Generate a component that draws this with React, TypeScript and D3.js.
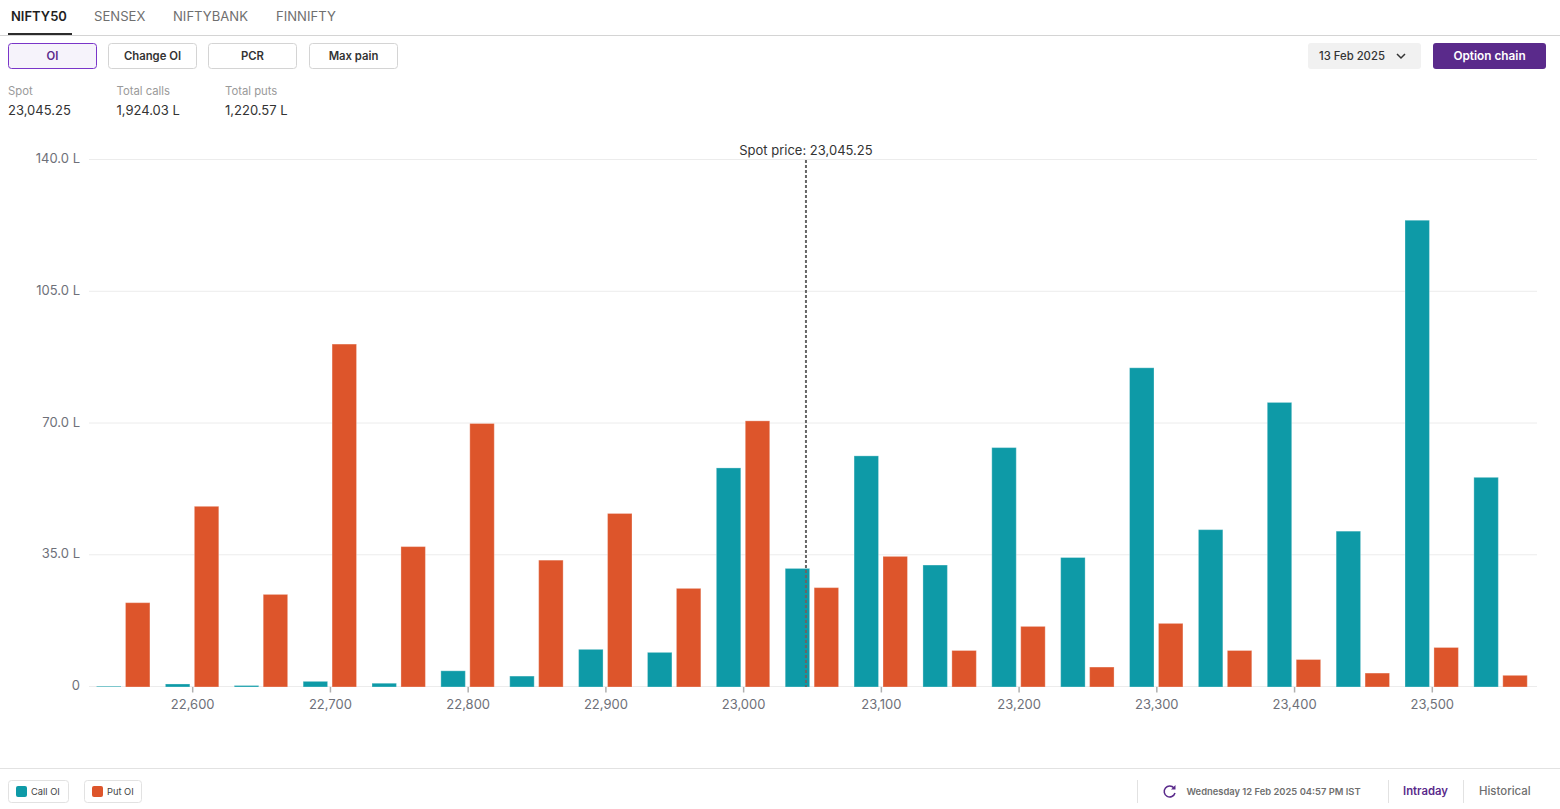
import * as d3 from "d3";

const strikes = [22550, 22600, 22650, 22700, 22750, 22800, 22850, 22900, 22950, 23000, 23050, 23100, 23150, 23200, 23250, 23300, 23350, 23400, 23450, 23500, 23550];
const callOI = [0.2, 0.8, 0.4, 1.5, 1.0, 4.3, 2.9, 10, 9.2, 58.2, 31.5, 61.4, 32.4, 63.6, 34.4, 84.8, 41.8, 75.6, 41.4, 124, 55.7];
const putOI = [22.4, 48, 24.6, 91.1, 37.3, 70, 33.7, 46.1, 26.2, 70.7, 26.4, 34.7, 9.7, 16.1, 5.3, 16.9, 9.7, 7.3, 3.7, 10.5, 3.1];
const yTicks = [0, 35, 70, 105, 140];
const xTicks = [22600, 22700, 22800, 22900, 23000, 23100, 23200, 23300, 23400, 23500];
const spot = 23045.25;
const tabs = ["NIFTY50", "SENSEX", "NIFTYBANK", "FINNIFTY"];
const tabX = [11, 94, 173, 276];
const pills = ["OI", "Change OI", "PCR", "Max pain"];
const pillX = [8, 108, 208, 309];
const stats = [
    { label: "Spot", value: "23,045.25" },
    { label: "Total calls", value: "1,924.03 L" },
    { label: "Total puts", value: "1,220.57 L" },
];
const statX = [8, 116.5, 225];

const CALL = "#0e9aa7";
const PUT = "#dd552b";
const FONT = "Inter, 'Noto Sans', sans-serif";

const x = d3.scaleBand<number>().domain(strikes).range([88.8, 1535]);
const inner = d3
    .scaleBand<string>()
    .domain(["call", "put"])
    .range([0, x.bandwidth()])
    .paddingInner(0.12)
    .paddingOuter(0.25);
const y = d3.scaleLinear().domain([0, 140]).range([687, 160]);
// the strike axis is continuous for the spot marker
const xSpot = d3
    .scaleLinear()
    .domain([22550, 23550])
    .range([(x(22550) ?? 0) + x.bandwidth() / 2 + 0.6, (x(23550) ?? 0) + x.bandwidth() / 2 + 0.6]);

const fmt = d3.format(",");

export default function App() {
    const spotX = xSpot(spot);
    return (
        <svg
            width={1560}
            height={809}
            viewBox="0 0 1560 809"
            style={{ position: "fixed", left: 0, top: 0, display: "block", background: "#fff", fontFamily: FONT }}
        >
            {/* Tabs */}
            {tabs.map((t, i) => (
                <text
                    key={t}
                    x={tabX[i]}
                    y={21}
                    fontSize={i === 0 ? 13 : 13.1}
                    fontWeight={i === 0 ? 600 : 400}
                    fill={i === 0 ? "#1f1f1f" : "#6f6f6f"}
                >
                    {t}
                </text>
            ))}
            <rect x={8} y={33} width={64} height={2} fill="#2c2c2c" />
            <line x1={0} x2={1560} y1={35.5} y2={35.5} stroke="#d4d4d4" />

            {/* Buttons */}
            {pills.map((p, i) => (
                <g key={p}>
                    <rect
                        x={pillX[i] + 0.5}
                        y={43.5}
                        width={88}
                        height={25}
                        rx={3}
                        fill={i === 0 ? "#f6f3fb" : "#fff"}
                        stroke={i === 0 ? "#7a35c9" : "#d4d4d4"}
                    />
                    <text
                        x={pillX[i] + 44.5}
                        y={60}
                        textAnchor="middle"
                        fontSize={11.3}
                        fontWeight={600}
                        fill={i === 0 ? "#5b2a8c" : "#333"}
                    >
                        {p}
                    </text>
                </g>
            ))}

            {/* Expiry + option chain */}
            <rect x={1308} y={43} width={113} height={26} rx={3} fill="#f1f1f1" />
            <text x={1319} y={60} fontSize={11.3} fontWeight={500} fill="#333">
                13 Feb 2025
            </text>
            <path d="M1397 54 L1401 58 L1405 54" fill="none" stroke="#333" strokeWidth={1.5} />
            <rect x={1433} y={43} width={113} height={26} rx={3} fill="#5a2a8b" />
            <text x={1489.5} y={60} textAnchor="middle" fontSize={11.8} fontWeight={600} fill="#fff">
                Option chain
            </text>

            {/* Summary */}
            {stats.map((s, i) => (
                <g key={s.label}>
                    <text x={statX[i]} y={95} fontSize={11.3} fill="#9a9a9a">
                        {s.label}
                    </text>
                    <text x={statX[i]} y={115} fontSize={13} fill="#333">
                        {s.value}
                    </text>
                </g>
            ))}

            {/* Grid and y axis */}
            {yTicks.map((t) => (
                <g key={t}>
                    <line x1={89} x2={1537} y1={y(t) - 0.5} y2={y(t) - 0.5} stroke="#ececec" />
                    <text x={80} y={y(t) + 3} textAnchor="end" fontSize={13} fill="#6e7079">
                        {t === 0 ? "0" : `${t.toFixed(1)} L`}
                    </text>
                </g>
            ))}

            {/* Bars */}
            {strikes.map((s, i) => (
                <g key={s} transform={`translate(${x(s)},0)`} stroke="#fff" strokeOpacity={0.3}>
                    <rect
                        x={(inner("call") ?? 0) + 0.5}
                        y={y(callOI[i])}
                        width={inner.bandwidth() - 1}
                        height={y(0) - y(callOI[i])}
                        fill={CALL}
                    />
                    <rect
                        x={(inner("put") ?? 0) + 0.5}
                        y={y(putOI[i])}
                        width={inner.bandwidth() - 1}
                        height={y(0) - y(putOI[i])}
                        fill={PUT}
                    />
                </g>
            ))}

            {/* X axis */}
            {xTicks.map((t) => {
                const cx = (x(t) ?? 0) + x.bandwidth() / 2 + 0.6;
                return (
                    <g key={t}>
                        <line x1={cx} x2={cx} y1={687} y2={692.5} stroke="#b0b0b0" strokeWidth={1.5} />
                        <text x={cx} y={709} textAnchor="middle" fontSize={13} fill="#6e7079">
                            {fmt(t)}
                        </text>
                    </g>
                );
            })}

            {/* Spot marker */}
            <line x1={spotX} x2={spotX} y1={160} y2={687} stroke="#666" strokeWidth={2} strokeDasharray="3 2" />
            <text x={spotX} y={155} textAnchor="middle" fontSize={13} fill="#333">
                {`Spot price: ${fmt(spot)}`}
            </text>

            {/* Footer */}
            <line x1={0} x2={1560} y1={768.5} y2={768.5} stroke="#e2e2e2" />
            <rect x={8.5} y={780.5} width={60} height={22} rx={3} fill="#fff" stroke="#e2e2e2" />
            <rect x={16} y={786} width={11} height={11} rx={2} fill={CALL} />
            <text x={31} y={795} fontSize={9.3} fill="#444">
                Call OI
            </text>
            <rect x={84.5} y={780.5} width={57} height={22} rx={3} fill="#fff" stroke="#e2e2e2" />
            <rect x={92} y={786} width={11} height={11} rx={2} fill={PUT} />
            <text x={107} y={795} fontSize={9.3} fill="#444">
                Put OI
            </text>

            <line x1={1137.5} x2={1137.5} y1={780} y2={803} stroke="#e2e2e2" />
            <path
                d="M1174 788 A5.5 5.5 0 1 0 1175 793"
                fill="none"
                stroke="#5a2a8b"
                strokeWidth={1.5}
            />
            <path d="M1175.5 785 L1175.5 789.5 L1171 789.5 Z" fill="#5a2a8b" />
            <text x={1186.5} y={795} fontSize={9.4} fontWeight={600} fill="#6f6f6f">
                Wednesday 12 Feb 2025 04:57 PM IST
            </text>
            <line x1={1388.5} x2={1388.5} y1={780} y2={803} stroke="#e2e2e2" />
            <text x={1403} y={795} fontSize={11.3} fontWeight={600} fill="#5a2a8b">
                Intraday
            </text>
            <line x1={1463.5} x2={1463.5} y1={780} y2={803} stroke="#e2e2e2" />
            <text x={1479} y={795} fontSize={11.4} fontWeight={500} fill="#6f6f6f">
                Historical
            </text>
        </svg>
    );
}
